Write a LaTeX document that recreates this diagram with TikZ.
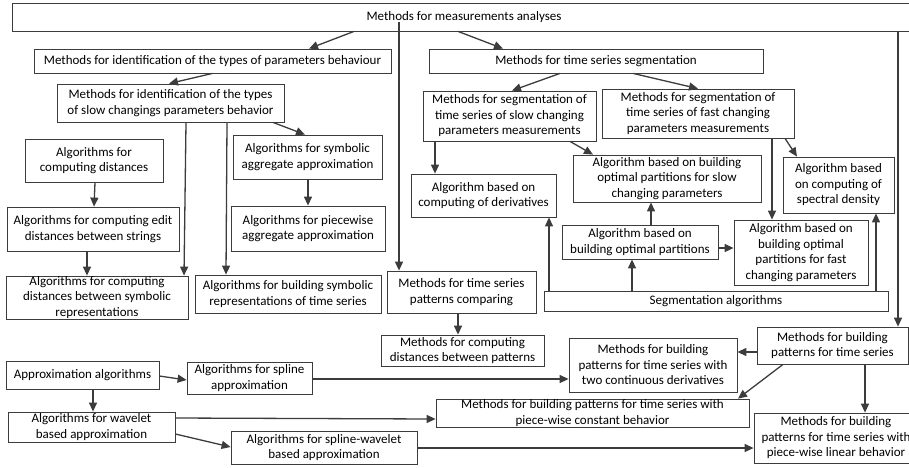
\documentclass[tikz,border=0pt]{standalone}
\usepackage{fontspec}
\setmainfont{Carlito}
\usetikzlibrary{arrows.meta,shadows}
\definecolor{linegray}{HTML}{3C3C3C}
\definecolor{shadowgray}{HTML}{B4B4B4}
\tikzset{
  box/.style={draw=linegray, line width=0.8pt, fill=white, align=center,
    inner sep=0pt, font=\fontsize{13}{15.5}\selectfont,
    drop shadow={shadow xshift=1.3pt, shadow yshift=-1.3pt, fill=shadowgray, opacity=1}},
  wh/.style 2 args={minimum width=#1pt, minimum height=#2pt},
  arr/.style={draw=linegray, line width=1.3pt, -{Triangle[length=9pt,width=8pt]}},
}
\begin{document}
\begin{tikzpicture}[x=1pt,y=-1pt]
\useasboundingbox (0,0) rectangle (909,467);
% nodes
\node[box, wh={904}{28}] (top) at (464,17) {Methods for measurements analyses};
\node[box, wh={357}{24}] (idtypes) at (212.5,61) {Methods for identification of the types of parameters behaviour};
\node[box, wh={227}{38}] (slowid) at (170.5,103) {Methods for identification of the types\\of slow changings parameters behavior};
\node[box, wh={334}{24}] (tsseg) at (596,61) {Methods for time series segmentation};
\node[box, wh={173}{50}] (segslow) at (509.5,116) {Methods for segmentation of\\time series of slow changing\\parameters measurements};
\node[box, wh={192}{49}] (segfast) at (698,113.5) {Methods for segmentation of\\time series of fast changing\\parameters measurements};
\node[box, wh={188}{47}] (optslow) at (667,178.5) {Algorithm based on building\\optimal partitions for slow\\changing parameters};
\node[box, wh={111}{56}] (spectral) at (838.5,185) {Algorithm based\\on computing of\\spectral density};
\node[box, wh={145}{43}] (deriv) at (483.5,195.5) {Algorithm based on\\computing of derivatives};
\node[box, wh={156}{34}] (optpart) at (640,242) {Algorithm based on\\building optimal partitions};
\node[box, wh={134}{65}] (optfast) at (801,252.5) {Algorithm based on\\building optimal\\partitions for fast\\changing parameters};
\node[box, wh={344}{20}] (segalg) at (716,301) {Segmentation algorithms};
\node[box, wh={149}{42}] (patcomp) at (461.5,292) {Methods for time series\\patterns comparing};
\node[box, wh={138}{43}] (compdist) at (94,160.5) {Algorithms for\\computing distances};
\node[box, wh={172}{44}] (editdist) at (93,229) {Algorithms for computing edit\\distances between strings};
\node[box, wh={182}{43}] (symdist) at (97,297.5) {Algorithms for computing\\distances between symbolic\\representations};
\node[box, wh={149}{44}] (sax) at (307.5,157) {Algorithms for symbolic\\aggregate approximation};
\node[box, wh={154}{45}] (paa) at (308,228.5) {Algorithms for piecewise\\aggregate approximation};
\node[box, wh={186}{38}] (symrep) at (288,294) {Algorithms for building symbolic\\representations of time series};
\node[box, wh={163}{31}] (distpat) at (462.5,350.5) {Methods for computing\\distances between patterns};
\node[box, wh={151}{37}] (bldpat) at (832.5,345.5) {Methods for building\\patterns for time series};
\node[box, wh={168}{54}] (twoderiv) at (653,365) {Methods for building\\patterns for time series with\\two continuous derivatives};
\node[box, wh={313}{28}] (pwconst) at (592.5,413) {Methods for building patterns for time series with\\piece-wise constant behavior};
\node[box, wh={164}{50}] (pwlin) at (836,438) {Methods for building\\patterns for time series with\\piece-wise linear behavior};
\node[box, wh={153}{28}] (approx) at (82.5,375) {Approximation algorithms};
\node[box, wh={125}{32}] (spline) at (249.5,378) {Algorithms for spline\\approximation};
\node[box, wh={167}{30}] (wavelet) at (91.5,427) {Algorithms for wavelet\\based approximation};
\node[box, wh={186}{33}] (splwav) at (324,447.5) {Algorithms for spline-wavelet\\based approximation};
% connectors
\draw[arr] ([xshift=-110pt]top.south) -- ([xshift=96.5pt]idtypes.north);
\draw[arr] ([xshift=-6pt]top.south) -- ([xshift=-93pt]tsseg.north);
\draw[arr] ([xshift=-65pt,yshift=-5pt]top.center) -- ([xshift=-62.5pt]patcomp.north);
\draw[arr] ([xshift=434pt]top.south) -- ([xshift=65.5pt]bldpat.north);
\draw[arr] (idtypes.south) -- ([xshift=-1.5pt]slowid.north);
\draw[arr] ([xshift=102.5pt]slowid.south) -- ([xshift=-2.5pt]sax.north);
\draw[arr] ([xshift=15.5pt]slowid.south) -- ([xshift=87pt]symdist.north);
\draw[arr] ([xshift=56.5pt]slowid.south) -- ([xshift=-62pt]symrep.north);
\draw[arr] ([xshift=1pt]compdist.south) -- ([xshift=1pt]editdist.north);
\draw[arr] ([xshift=-6pt]editdist.south) -- ([xshift=-10pt]symdist.north);
\draw[arr] ([xshift=0.5pt]sax.south) -- (paa.north);
\draw[arr] ([xshift=-36pt]tsseg.south) -- ([xshift=2.5pt]segslow.north);
\draw[arr] ([xshift=37pt]tsseg.south) -- (segfast.north);
\draw[arr] ([xshift=-74.5pt]segslow.south) -- ([xshift=-48.5pt]deriv.north);
\draw[arr] ([xshift=60.5pt]segslow.south) -- ([xshift=-74pt]optslow.north);
\draw[arr] ([xshift=74pt]segfast.south) -- ([xshift=-29pt]optfast.north);
\draw[arr] ([xshift=87pt]segfast.south) -- ([xshift=-41.5pt]spectral.north);
\draw[arr] ([xshift=11pt]optpart.north) -- ([xshift=-16pt]optslow.south);
\draw[arr] ([yshift=-6pt]optpart.east) -- ([yshift=4.5pt]optfast.west);
\draw[arr] ([xshift=-167pt]segalg.north) -- ([xshift=65.5pt]deriv.south);
\draw[arr] ([xshift=-84pt]segalg.north) -- ([xshift=-8pt]optpart.south);
\draw[arr] ([xshift=160pt]segalg.north) -- ([xshift=37.5pt]spectral.south);
\draw[arr] ([xshift=-3.5pt]patcomp.south) -- ([xshift=-4.5pt]distpat.north);
\draw[arr] ([yshift=-6.5pt]bldpat.west) -- ([yshift=13pt]twoderiv.east);
\draw[arr] ([xshift=-49.5pt]bldpat.south) -- ([xshift=145.5pt]pwconst.north);
\draw[arr] ([xshift=32.5pt]bldpat.south) -- ([xshift=29pt]pwlin.north);
\draw[arr] ([yshift=-1pt]approx.east) -- ([yshift=-2pt]spline.west);
\draw[arr] ([xshift=10.5pt]approx.south) -- ([xshift=1.5pt]wavelet.north);
\draw[arr] ([yshift=-1pt]spline.east) -- ([yshift=-14pt]twoderiv.west);
\draw[arr] ([yshift=9pt]wavelet.east) -- ([yshift=-6pt]pwconst.west);
\draw[arr] ([yshift=-7pt]wavelet.east) -- ([yshift=0.5pt]splwav.west);
\draw[arr] ([yshift=-0.5pt]splwav.east) -- ([yshift=-10pt]pwlin.west);
\end{tikzpicture}
\end{document}
